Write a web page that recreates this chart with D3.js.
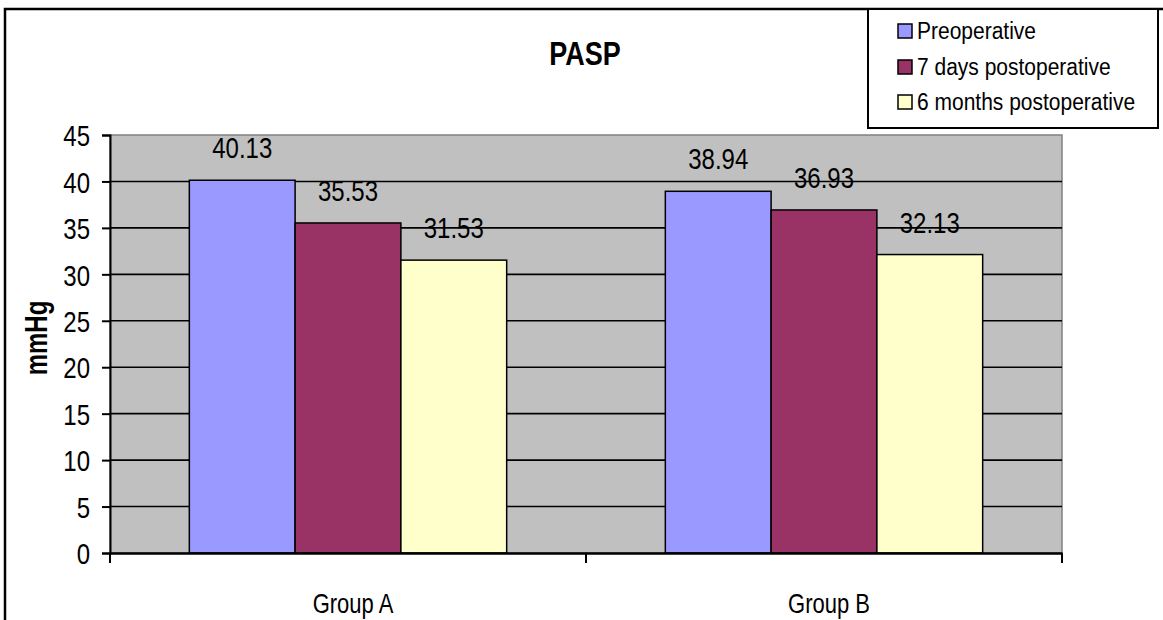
<!DOCTYPE html>
<html>
<head>
<meta charset="utf-8">
<script src="https://cdn.jsdelivr.net/npm/d3@7"></script>
<style>
  html, body { margin: 0; padding: 0; background: #fff; }
  svg { display: block; }
  text { font-family: "Liberation Sans", Arial, sans-serif; fill: #000; }
</style>
</head>
<body>
<svg id="chart" width="1163" height="620"></svg>
<script>
const categories = ["Group A", "Group B"];
const seriesNames = ["Preoperative", "7 days postoperative", "6 months postoperative"];
const preoperative = [40.13, 38.94];
const days7 = [35.53, 36.93];
const months6 = [31.53, 32.13];
const yTicks = [0, 5, 10, 15, 20, 25, 30, 35, 40, 45];
const seriesColors = ["#9999FF", "#993366", "#FFFFCC"];

const seriesValues = [preoperative, days7, months6];
const data = categories.map((c, i) => ({
  cat: c,
  vals: seriesNames.map((s, j) => ({ series: s, value: seriesValues[j][i], color: seriesColors[j] }))
}));

const svg = d3.select("#chart");
const plot = { left: 110, right: 1062, top: 135, bottom: 553 };
const SY = 1.24;

// Outer border
svg.append("path")
  .attr("d", `M5,625 L5,9 L1170,9`)
  .attr("fill", "none").attr("stroke", "#000").attr("stroke-width", 2.5);

// Title
svg.append("text")
  .attr("transform", `translate(585,65) scale(1,${SY})`)
  .attr("text-anchor", "middle")
  .attr("font-weight", "bold")
  .attr("font-size", 27)
  .text("PASP");

const x0 = d3.scaleBand().domain(categories).range([plot.left, plot.right]).paddingInner(0).paddingOuter(0);
const x1 = d3.scaleBand().domain(seriesNames).range([0, x0.bandwidth()]).paddingInner(0).paddingOuter(0.75);
const y = d3.scaleLinear().domain([0, 45]).range([plot.bottom, plot.top]);

// Plot background
svg.append("rect")
  .attr("x", plot.left).attr("y", plot.top)
  .attr("width", plot.right - plot.left).attr("height", plot.bottom - plot.top)
  .attr("fill", "#C0C0C0").attr("stroke", "#808080").attr("stroke-width", 1.5);

// Gridlines
svg.append("g").selectAll("line")
  .data(yTicks.filter(t => t > 0 && t < 45))
  .join("line")
  .attr("x1", plot.left).attr("x2", plot.right)
  .attr("y1", d => y(d)).attr("y2", d => y(d))
  .attr("stroke", "#000").attr("stroke-width", 1.6);

// Bars
const groups = svg.append("g").selectAll("g")
  .data(data).join("g")
  .attr("transform", d => `translate(${x0(d.cat)},0)`);

groups.selectAll("rect")
  .data(d => d.vals).join("rect")
  .attr("x", d => x1(d.series))
  .attr("y", d => y(d.value))
  .attr("width", x1.bandwidth())
  .attr("height", d => y(0) - y(d.value))
  .attr("fill", d => d.color)
  .attr("stroke", "#000").attr("stroke-width", 1.5);

groups.selectAll("text.lbl")
  .data(d => d.vals).join("text")
  .attr("class", "lbl")
  .attr("transform", d => `translate(${x1(d.series) + x1.bandwidth() / 2},${y(d.value) - 22}) scale(1,${SY})`)
  .attr("text-anchor", "middle")
  .attr("font-size", 24)
  .text(d => d.value.toFixed(2));

// Y axis
const yAxis = svg.append("g")
  .attr("transform", `translate(${plot.left},0)`)
  .call(d3.axisLeft(y).tickValues(yTicks).tickSize(8).tickPadding(12).tickFormat(d3.format("d")));
yAxis.select(".domain").attr("stroke", "#000").attr("stroke-width", 2);
yAxis.selectAll(".tick line").attr("stroke", "#000").attr("stroke-width", 2);
yAxis.selectAll(".tick text")
  .attr("font-size", 24)
  .attr("font-family", "Liberation Sans, Arial, sans-serif")
  .attr("fill", "#000")
  .attr("dy", "0.36em")
  .attr("transform", `scale(1,${SY})`);

// X axis
const xAxis = svg.append("g")
  .attr("transform", `translate(0,${plot.bottom})`)
  .call(d3.axisBottom(x0).tickSize(0).tickFormat(""));
xAxis.select(".domain").attr("stroke", "#000").attr("stroke-width", 2.5);
xAxis.selectAll(".tick").remove();
const xTickPos = [plot.left, ...categories.slice(1).map(c => x0(c)), plot.right];
xAxis.selectAll("line.xt").data(xTickPos).join("line")
  .attr("class", "xt")
  .attr("x1", d => d).attr("x2", d => d)
  .attr("y1", 0).attr("y2", 10)
  .attr("stroke", "#000").attr("stroke-width", 2);
xAxis.selectAll("text.cat").data(categories).join("text")
  .attr("class", "cat")
  .attr("transform", d => `translate(${x0(d) + x0.bandwidth() / 2 + 5},60) scale(1,${SY})`)
  .attr("text-anchor", "middle")
  .attr("font-size", 22)
  .text(d => d);

// Y axis title
svg.append("text")
  .attr("transform", `translate(47,338) rotate(-90) scale(1,1.28)`)
  .attr("text-anchor", "middle")
  .attr("font-weight", "bold")
  .attr("font-size", 24)
  .text("mmHg");

// Legend
const legend = svg.append("g");
legend.append("rect")
  .attr("x", 868).attr("y", 9).attr("width", 290).attr("height", 119)
  .attr("fill", "#fff").attr("stroke", "#000").attr("stroke-width", 2);
const rowsY = [31, 67, 102];
const items = legend.selectAll("g.item").data(seriesNames).join("g")
  .attr("class", "item")
  .attr("transform", (d, i) => `translate(0,${rowsY[i]})`);
items.append("rect")
  .attr("x", 898).attr("y", -7).attr("width", 14).attr("height", 14)
  .attr("fill", (d, i) => seriesColors[i])
  .attr("stroke", "#000").attr("stroke-width", 1.5);
items.append("text")
  .attr("transform", `translate(917,0) scale(1,1.12)`)
  .attr("dy", "0.36em")
  .attr("font-size", 21)
  .text(d => d);
</script>
</body>
</html>
